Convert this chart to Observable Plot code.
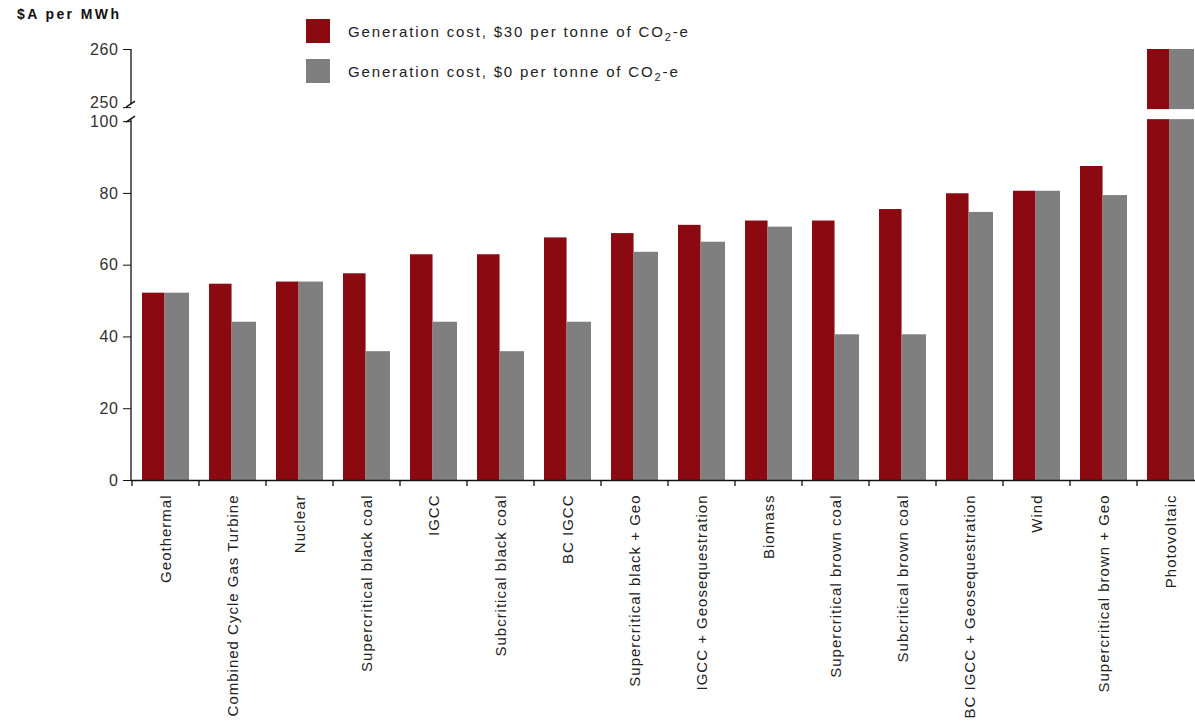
<!DOCTYPE html>
<html><head><meta charset="utf-8">
<script src="https://cdn.jsdelivr.net/npm/d3@7"></script>
<script src="https://cdn.jsdelivr.net/npm/@observablehq/plot@0.6"></script>
<style>
body{margin:0;background:#fff;font-family:"Liberation Sans",Arial,sans-serif;}
#wrap{position:relative;width:1195px;height:727px;overflow:hidden;background:#fff}
#chart{position:absolute;left:0;top:0}
#title{position:absolute;left:17px;top:6px;font-weight:bold;font-size:14px;letter-spacing:2.4px;color:#111}
#legend{position:absolute;left:306px;top:19px;font-size:15px;color:#222;letter-spacing:1.85px}
.row{display:flex;align-items:center;height:24px;margin-bottom:16px;white-space:nowrap}
.sw{width:24px;height:24px;margin-right:18px;flex:none}
sub{font-size:11px;vertical-align:-4px;line-height:0}
#chart svg [aria-label="x-axis tick label"] text{letter-spacing:1px}
#chart svg [aria-label="y-axis tick label"] text, #chart svg .brk text{letter-spacing:0.6px}
</style></head><body>
<div id="wrap">
  <div id="chart"></div>
  <div id="title">$A per MWh</div>
  <div id="legend"></div>
</div>
<script>
// ---- data ----
const categories = ["Geothermal","Combined Cycle Gas Turbine","Nuclear","Supercritical black coal","IGCC","Subcritical black coal","BC IGCC","Supercritical black + Geo","IGCC + Geosequestration","Biomass","Supercritical brown coal","Subcritical brown coal","BC IGCC + Geosequestration","Wind","Supercritical brown + Geo","Photovoltaic"];
const cost30 = [52.2, 54.7, 55.3, 57.6, 62.9, 62.9, 67.6, 68.8, 71.1, 72.3, 72.3, 75.5, 79.9, 80.6, 87.5, 260];
const cost0  = [52.2, 44.1, 55.3, 35.9, 44.1, 35.9, 44.1, 63.6, 66.4, 70.6, 40.6, 40.6, 74.7, 80.6, 79.4, 260];
const yTicks = [0, 20, 40, 60, 80, 100, 250, 260];
const seriesNames = ["Generation cost, $30 per tonne of  CO<sub>2</sub>-e", "Generation cost, $0 per tonne of CO<sub>2</sub>-e"];
const seriesColors = ["#8b0a12", "#7f7f7f"];

// broken y axis: 0–100 lower panel, 250–260 upper panel
const breakLo = 100, breakHi = 250;
const gapUnits = 3.9;      // visual gap between panels, in lower-panel units
const upperStretch = 1.62; // upper panel units per data unit
const fwd = v => v <= breakLo ? v : breakLo + gapUnits + (Math.max(v, breakHi) - breakHi) * upperStretch;
const inv = t => t <= breakLo ? t : breakHi + (t - breakLo - gapUnits) / upperStretch;

const rows = categories.map((c, i) => ({cat: c, v30: fwd(cost30[i]), v0: fwd(cost0[i])}));

// layout
const W = 1195, H = 727;
const xRange = [131, 1204];
const pIn = 0.3, pOut = 0.15;
const step = (xRange[1] - xRange[0]) / (categories.length - pIn + 2 * pOut);
const bw = step * (1 - pIn);
const redW = 22.5;

const axisMark = (index, scales, values, dims) => {
  const {x, y} = scales;
  const g = d3.create("svg:g").attr("stroke", "#111").attr("fill", "none").attr("stroke-width", 1.3);
  const x0 = dims.marginLeft;
  const yb1 = y(fwd(breakHi)) - 3, yb2 = y(breakLo) - 2;
  g.append("line").attr("x1", x0).attr("x2", x0).attr("y1", y(fwd(260))).attr("y2", yb1);
  g.append("line").attr("x1", x0).attr("x2", x0).attr("y1", yb2).attr("y2", y(0));
  for (const yy of [yb1, yb2]) {
    g.append("line").attr("x1", x0 - 5).attr("y1", yy + 3).attr("x2", x0 + 4).attr("y2", yy - 3);
  }
  const st = typeof x.step === "function" ? x.step() : step;
  const b = typeof x.bandwidth === "function" ? x.bandwidth() : (x.bandwidth ?? bw);
  for (const c of categories) {
    const bx = x(c) + b / 2 - st / 2;
    g.append("line").attr("x1", bx).attr("x2", bx).attr("y1", y(0)).attr("y2", y(0) + 6);
  }
  return g.node();
};

const mainTicks = yTicks.filter(t => t !== breakHi);

const chart = Plot.plot({
  width: W, height: H,
  marginLeft: 131, marginRight: 0, marginTop: 49, marginBottom: H - 480,
  style: {fontFamily: "'Liberation Sans', Arial, sans-serif", fontSize: "15px", color: "#222", background: "transparent"},
  x: {domain: categories, range: xRange, paddingInner: pIn, paddingOuter: pOut, label: null},
  y: {domain: [0, fwd(260)], range: [480, 49], label: null},
  marks: [
    Plot.barY(rows, {x: "cat", y: "v30", fill: seriesColors[0], insetRight: bw - redW}),
    Plot.barY(rows, {x: "cat", y: "v0", fill: seriesColors[1], insetLeft: redW}),
    Plot.rect([0], {y1: breakLo, y2: fwd(breakHi), fill: "white", insetTop: 2, insetBottom: 2}),
    Plot.ruleY([0], {stroke: "#111", strokeWidth: 1.3}),
    Plot.axisY({ticks: yTicks.map(fwd), tickFormat: null, text: null, tickSize: 8, label: null, stroke: "#111"}),
    Plot.axisY({ticks: mainTicks.map(fwd), tickFormat: t => String(Math.round(inv(t))), tickSize: 0, tickPadding: 13, label: null, fill: "#333", fontSize: 16}),
    Plot.text([breakHi], {y: d => fwd(d), text: d => String(d), frameAnchor: "left", textAnchor: "end", dx: -13, dy: -5, fill: "#333", fontSize: 16, className: "brk"}),
    Plot.axisX({tickSize: 0, tickRotate: -90, tickPadding: 14, label: null, fontSize: 15, fill: "#222"}),
    axisMark
  ]
});
document.getElementById("chart").appendChild(chart);

const leg = document.getElementById("legend");
seriesNames.forEach((n, i) => {
  const r = document.createElement("div");
  r.className = "row";
  r.innerHTML = `<div class="sw" style="background:${seriesColors[i]}"></div><span>${n}</span>`;
  leg.appendChild(r);
});
</script>
</body></html>
